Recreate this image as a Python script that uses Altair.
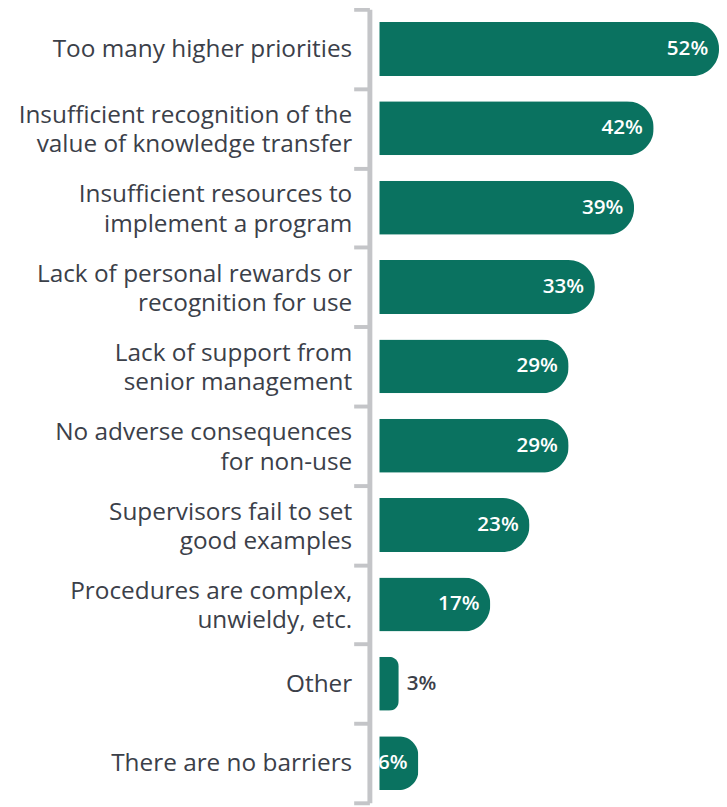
import altair as alt
import pandas as pd

categories = [
    "Too many higher priorities",
    "Insufficient recognition of the|value of knowledge transfer",
    "Insufficient resources to|implement a program",
    "Lack of personal rewards or|recognition for use",
    "Lack of support from |senior management",
    "No adverse consequences|for non-use",
    "Supervisors fail to set|good examples",
    "Procedures are complex,|unwieldy, etc.",
    "Other",
    "There are no barriers",
]
values = [52, 42, 39, 33, 29, 29, 23, 17, 3, 6]
value_labels = [f"{v}%" for v in values]

df = pd.DataFrame({"cat": categories, "val": values, "lab": value_labels})

GREEN = "#0a7260"
GRAY = "#c4c5c8"
TEXT = "#3b4049"

y_enc = alt.Y(
    "cat:N",
    sort=categories,
    scale=alt.Scale(paddingInner=0, paddingOuter=0),
    axis=alt.Axis(
        title=None,
        labelExpr="split(datum.label, '|')",
        labelFont="Open Sans",
        labelFontSize=24.8,
        labelColor=TEXT,
        labelLineHeight=30,
        labelLimit=0,
        labelPadding=2,
        labelAlign="right",
        labelOffset=alt.condition(
            "indexof(datum.label, '|') >= 0", alt.value(-13), alt.value(1)
        ),
        domainColor=GRAY,
        domainWidth=5,
        tickColor=GRAY,
        tickWidth=4,
        tickSize=16,
        tickBand="extent",
        offset=10,
        grid=False,
    ),
)
x_scale = alt.Scale(domain=[0, 52], nice=False, zero=True)

base = alt.Chart(df)

bars = base.mark_bar(
    color=GREEN, cornerRadiusEnd=27, height=alt.RelativeBandSize(band=0.68)
).encode(
    x=alt.X("val:Q", scale=x_scale, axis=None),
    y=y_enc,
)

text_in = base.transform_filter("datum.val >= 5").mark_text(
    align="right", baseline="middle", dx=-11, color="white",
    font="Open Sans", fontSize=21, fontWeight=600,
).encode(
    x=alt.X("val:Q", scale=x_scale, axis=None),
    y=alt.Y("cat:N", sort=categories),
    text="lab:N",
)

text_out = base.transform_filter("datum.val < 5").mark_text(
    align="left", baseline="middle", dx=8, color=TEXT,
    font="Open Sans", fontSize=21, fontWeight=600,
).encode(
    x=alt.X("val:Q", scale=x_scale, axis=None),
    y=alt.Y("cat:N", sort=categories),
    text="lab:N",
)

chart = alt.layer(bars, text_in, text_out).properties(
    width=346,
    height=808,
    padding={"left": 378, "top": -6, "right": 0, "bottom": 0},
    autosize="none",
).configure_view(stroke=None)

chart.save("out.html", embed_options={"renderer": "svg", "actions": False})
